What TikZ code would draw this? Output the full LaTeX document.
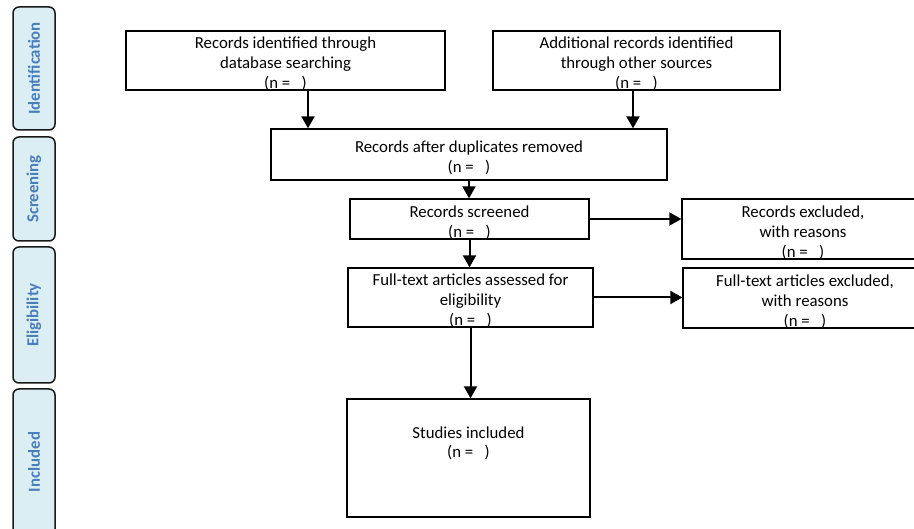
\documentclass[tikz,border=0pt]{standalone}
\usepackage{fontspec}
\setmainfont{Carlito}
\usetikzlibrary{arrows.meta}
\definecolor{phasefill}{HTML}{DAEEF3}
\definecolor{phasetext}{HTML}{4A7EBB}
\tikzset{
  recbox/.style={draw, line width=1.3pt, rectangle, inner sep=0pt, align=center,
    font=\fontsize{16.8}{20}\selectfont, text depth=0pt},
  twoline/.style={recbox, text height=37pt},
  threeline/.style={recbox, text height=57pt},
  phase/.style={draw=black!90, line width=1.5pt, rounded corners=6pt, fill=phasefill,
    text=phasetext, font=\fontsize{16.8}{20}\selectfont\bfseries, rotate=90,
    minimum height=42pt, inner sep=0pt},
  flow/.style={-{Triangle[length=12pt,width=13pt]}, line width=2pt},
}
\begin{document}
\begin{tikzpicture}[x=1pt, y=-1pt]
  \useasboundingbox (0,0) rectangle (914,529);
  \clip (0,0) rectangle (914,529);

  % --- phase bars on the left ---
  \node[phase, minimum width=123pt] (ident) at (34,68.5) {Identification};
  \node[phase, minimum width=104pt] (screening) at (34,189) {Screening};
  \node[phase, minimum width=136pt] (elig) at (34,315) {Eligibility};
  \node[phase, minimum width=146pt] (included) at (34,462) {Included};

  % --- identification ---
  \node[threeline, minimum width=319pt, minimum height=59pt] (dbrec) at (285.5,60.5)
    {Records identified through\\database searching\\(n = \ \ )};
  \node[threeline, minimum width=287pt, minimum height=59pt] (otherrec) at (636.5,60.5)
    {Additional records identified\\through other sources\\(n = \ \ )};
  \node[twoline, minimum width=396pt, minimum height=51pt] (dedup) at (469,154.5)
    {Records after duplicates removed\\(n = \ \ )};

  % --- screening ---
  \node[twoline, minimum width=239pt, minimum height=40pt] (screened) at (469.5,219)
    {Records screened\\(n = \ \ )};
  \node[threeline, minimum width=242pt, minimum height=60pt] (recexcl) at (803,229)
    {Records excluded,\\with reasons\\(n = \ \ )};

  % --- eligibility ---
  \node[threeline, minimum width=245pt, minimum height=59pt] (fulltext) at (470.5,297.5)
    {Full-text articles assessed for\\eligibility\\(n = \ \ )};
  \node[threeline, minimum width=244pt, minimum height=60pt] (ftexcl) at (805,298)
    {Full-text articles excluded,\\with reasons\\(n = \ \ )};

  % --- included ---
  \node[recbox, text height=0pt, minimum width=243pt, minimum height=118pt] (studies) at (468.5,458)
    {Studies included\\(n = \ \ )};

  % --- arrows ---
  \draw[flow] ([xshift=22.5pt]dbrec.south) -- ([xshift=22.5pt]dbrec.south |- dedup.north);
  \draw[flow] ([xshift=-3.5pt]otherrec.south) -- ([xshift=-3.5pt]otherrec.south |- dedup.north);
  \draw[flow] (dedup.south) -- (dedup.south |- screened.north);
  \draw[flow] (screened.south) -- (screened.south |- fulltext.north);
  \draw[flow] (fulltext.south) -- (fulltext.south |- studies.north);
  \draw[flow] (screened.east) -- (screened.east -| recexcl.west);
  \draw[flow] (fulltext.east) -- (fulltext.east -| ftexcl.west);
\end{tikzpicture}
\end{document}
